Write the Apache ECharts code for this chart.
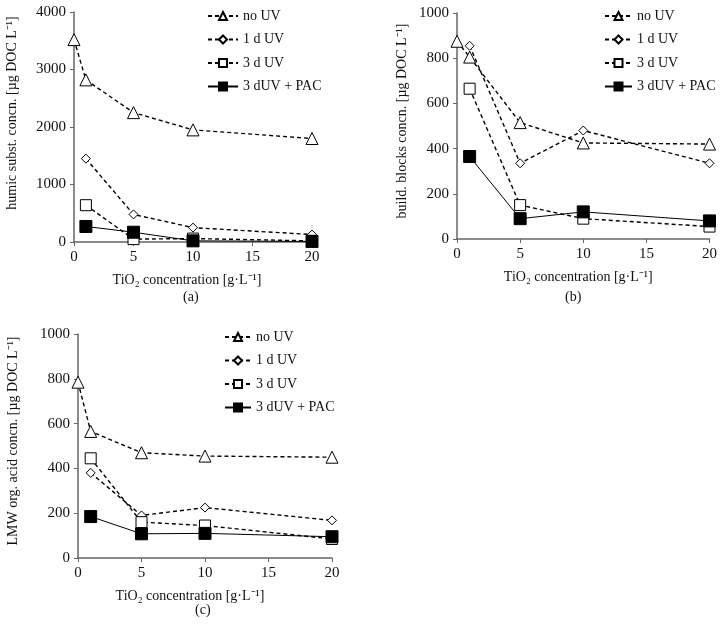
<!DOCTYPE html>
<html>
<head>
<meta charset="utf-8">
<script src="https://cdn.jsdelivr.net/npm/echarts@6/dist/echarts.min.js"></script>
<style>html,body{margin:0;padding:0;background:#fff}#c{width:720px;height:629px}</style>
</head>
<body>
<div id="c"></div>
<script>
// ---- data ----
const seriesNames = ['no UV', '1 d UV', '3 d UV', '3 dUV + PAC'];
const xNoUV = [0, 1, 5, 10, 20];
const xTreated = [1, 5, 10, 20];
const xTicks = [0, 5, 10, 15, 20];

// (a) humic substances
const humicNoUV = [3520, 2820, 2250, 1950, 1800];
const humic1dUV = [1450, 480, 250, 130];
const humic3dUV = [640, 50, 60, 20];
const humicPAC = [270, 170, 20, 10];

// (b) building blocks
const bbNoUV = [875, 805, 515, 425, 420];
const bb1dUV = [855, 335, 480, 335];
const bb3dUV = [665, 150, 90, 55];
const bbPAC = [365, 90, 120, 80];

// (c) LMW organic acids
const lmwNoUV = [785, 565, 470, 455, 450];
const lmw1dUV = [380, 190, 225, 168];
const lmw3dUV = [445, 160, 145, 85];
const lmwPAC = [185, 108, 110, 95];

const panelLabels = ['(a)', '(b)', '(c)'];
const yTitles = ['humic subst. concn. [µg DOC L⁻¹]', 'build. blocks concn. [µg DOC L⁻¹]', 'LMW org. acid concn. [µg DOC L⁻¹]'];
const xTitle = 'TiO₂ concentration [g·L⁻¹]';
const yMax = [4000, 1000, 1000];
const yInterval = [1000, 200, 200];

// ---- build ----
const FONT = 'Liberation Serif';
const panels = [
  [humicNoUV, humic1dUV, humic3dUV, humicPAC],
  [bbNoUV, bb1dUV, bb3dUV, bbPAC],
  [lmwNoUV, lmw1dUV, lmw3dUV, lmwPAC]
];
const grids = [
  {left: 74, top: 12, width: 238, height: 230},
  {left: 457, top: 13, width: 253, height: 226},
  {left: 78, top: 334, width: 254, height: 224}
];
const legendPos = [
  {left: 207, top: 9, w: 30},
  {left: 604, top: 9, w: 27},
  {left: 224, top: 330, w: 26}
];
const yNameGap = [55, 48, 58];
const yNamePad = [[0, 0, 0, 28], [0, 0, 0, 10], [0, 0, 0, 10]];
const xNamePad = [[0, 12, 0, 0], [0, 10, 0, 0], [0, 30, 0, 0]];
const labelPos = [[193, 298], [575, 298], [205, 611]];

const symbols = ['triangle', 'diamond', 'rect', 'rect'];
const symSizes = [12, 9, 11, 12];
const fills = ['#fff', '#fff', '#fff', '#000'];
const lineTypes = [[4, 3], [4, 3], [4, 3], 'solid'];
const lineWidths = [1.4, 1.4, 1.4, 1];

const axisLine = {lineStyle: {color: '#666', width: 1.5}};
const plain = v => String(v);
const xAxes = [], yAxes = [], series = [], legends = [], graphics = [];
panels.forEach((p, i) => {
  xAxes.push({
    gridIndex: i, type: 'value', min: 0, max: 20, interval: 5,
    axisLine: axisLine, axisTick: {show: true, length: 4, lineStyle: {color: '#666'}},
    splitLine: {show: false},
    axisLabel: {fontFamily: FONT, fontSize: 15, color: '#111', margin: 8, formatter: plain},
    name: xTitle, nameLocation: 'middle', nameGap: 31,
    nameTextStyle: {fontFamily: FONT, fontSize: 14, color: '#111', padding: xNamePad[i]}
  });
  yAxes.push({
    gridIndex: i, type: 'value', min: 0, max: yMax[i], interval: yInterval[i],
    axisLine: Object.assign({show: true}, axisLine),
    axisTick: {show: true, length: 4, lineStyle: {color: '#666'}},
    splitLine: {show: false},
    axisLabel: {fontFamily: FONT, fontSize: 15, color: '#111', margin: 8, formatter: plain},
    name: yTitles[i], nameLocation: 'middle', nameGap: yNameGap[i],
    nameTextStyle: {fontFamily: FONT, fontSize: 14, color: '#111', padding: yNamePad[i]}
  });
  p.forEach((vals, k) => {
    const xs = vals.length === 5 ? xNoUV : xTreated;
    series.push({
      name: seriesNames[k], type: 'line', xAxisIndex: i, yAxisIndex: i,
      data: vals.map((v, j) => [xs[j], v]),
      symbol: symbols[k], symbolSize: symSizes[k],
      showAllSymbol: true,
      itemStyle: {color: fills[k], borderColor: '#000', borderWidth: 1},
      lineStyle: {color: '#000', type: lineTypes[k], width: lineWidths[k]},
      z: 2 + k,
      animation: false
    });
  });
  legends.push({
    orient: 'vertical', left: legendPos[i].left, top: legendPos[i].top, padding: 0,
    data: seriesNames, itemWidth: legendPos[i].w, itemHeight: 10, itemGap: 9.5,
    textStyle: {fontFamily: FONT, fontSize: 14, color: '#111'},
    selectedMode: false
  });
  graphics.push({
    type: 'text', left: labelPos[i][0] - 10, top: labelPos[i][1] - 8,
    style: {text: panelLabels[i], font: '14px "Liberation Serif"', fill: '#111'}
  });
});

const chart = echarts.init(document.getElementById('c'));
chart.setOption({
  animation: false,
  backgroundColor: '#fff',
  grid: grids,
  xAxis: xAxes,
  yAxis: yAxes,
  legend: legends,
  series: series,
  graphic: graphics
});
</script>
</body>
</html>
